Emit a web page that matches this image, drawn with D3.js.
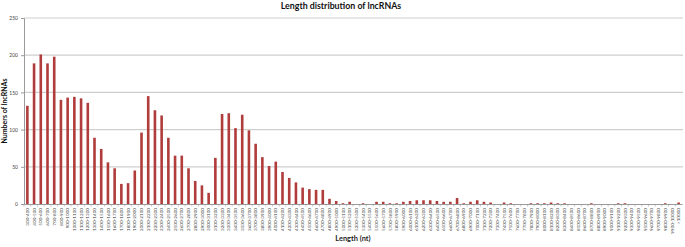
<!DOCTYPE html>
<html>
<head>
<meta charset="utf-8">
<script src="https://cdn.jsdelivr.net/npm/d3@7"></script>
<style>
  body { margin: 0; background: #fff; }
  svg { display: block; }
</style>
</head>
<body>
<div class="chart"></div>
<script>
// bins of 100 nt from 300 up to 10000, then one open bin
const binStarts = d3.range(300, 10000, 100);
const categories = binStarts.map(s => s + '-' + (s + 100)).concat(['>10000']);

const counts = [
  132, 189, 201, 189, 198, 140, 143, 144, 142, 136,
  89, 74, 56, 48, 27, 28, 45, 96, 145, 126,
  119, 89, 65, 65, 48, 31, 25, 15, 62, 121,
  122, 102, 120, 99, 81, 63, 51, 57, 43, 35,
  29, 22, 20, 19, 19, 7, 4, 1, 3, 0,
  1, 0, 3, 3, 1, 1, 3, 4, 5, 5,
  5, 4, 3, 3, 8, 1, 3, 5, 3, 2,
  0, 2, 1, 0, 0, 1, 1, 1, 2, 1,
  1, 0, 0, 0, 1, 0, 0, 0, 1, 1,
  0, 0, 0, 0, 0, 1, 0, 2
];

const yTicks = [0, 50, 100, 150, 200, 250];

const width = 685;
const height = 247;
const svg = d3.select('.chart').append('svg').attr('width', width).attr('height', height);

const x = d3.scaleBand().domain(categories).range([24, 682]);
const y = d3.scaleLinear().domain([0, 250]).range([204, 18]);

// gridlines
svg.append('g').selectAll('line').data(yTicks.slice(1)).enter().append('line')
  .attr('x1', 24).attr('x2', 683)
  .attr('y1', d => y(d)).attr('y2', d => y(d))
  .attr('stroke', '#cfcfcf').attr('stroke-width', 1.2);

// bars
const barW = 2.6;
svg.append('g').selectAll('rect').data(counts).enter().append('rect')
  .attr('x', (d, i) => x(categories[i]) + x.bandwidth() / 2 - barW / 2)
  .attr('width', barW)
  .attr('y', d => y(d))
  .attr('height', d => y(0) - y(d))
  .attr('fill', '#b03c3c');

// y axis
const yAxis = svg.append('g').attr('transform', 'translate(24,0)')
  .call(d3.axisLeft(y).tickValues(yTicks).tickSize(3).tickPadding(3));
yAxis.select('.domain').attr('stroke', '#9a9a9a');
yAxis.selectAll('.tick line').attr('stroke', '#9a9a9a');
yAxis.selectAll('text').attr('font-family', 'Lato, sans-serif').attr('font-size', 5).attr('fill', '#444');

// x axis
const xAxis = svg.append('g').attr('transform', 'translate(0,204)')
  .call(d3.axisBottom(x).tickSize(0).tickPadding(3));
xAxis.select('.domain').attr('stroke', '#9a9a9a');
xAxis.selectAll('.tick text')
  .attr('font-family', 'Lato, sans-serif').attr('font-size', 4.6).attr('fill', '#444')
  .attr('transform', 'rotate(-90)')
  .attr('text-anchor', 'end')
  .attr('dy', '0.35em').attr('x', -4).attr('y', 0);
// small separator ticks between categories
svg.append('g').selectAll('line').data(categories).enter().append('line')
  .attr('x1', d => x(d)).attr('x2', d => x(d))
  .attr('y1', 204).attr('y2', 206.5)
  .attr('stroke', '#9a9a9a').attr('stroke-width', 0.6);

// titles
svg.append('text').attr('x', 341).attr('y', 9)
  .attr('text-anchor', 'middle').attr('font-family', 'Lato, sans-serif')
  .attr('font-weight', 'bold').attr('font-size', 8.8).attr('fill', '#111')
  .text('Length distribution of lncRNAs');

svg.append('text').attr('x', 353).attr('y', 241)
  .attr('text-anchor', 'middle').attr('font-family', 'Lato, sans-serif')
  .attr('font-weight', 'bold').attr('font-size', 7.4).attr('fill', '#222')
  .text('Length (nt)');

svg.append('text')
  .attr('transform', 'translate(7,111) rotate(-90)')
  .attr('text-anchor', 'middle').attr('font-family', 'Lato, sans-serif')
  .attr('font-weight', 'bold').attr('font-size', 7).attr('fill', '#111')
  .text('Numbers of lncRNAs');
</script>
</body>
</html>
